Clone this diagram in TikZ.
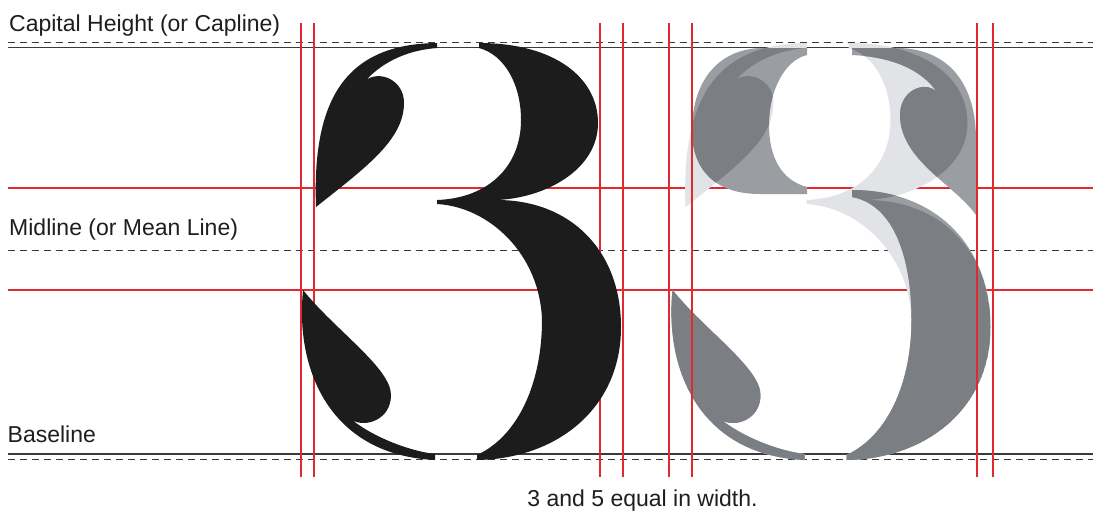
\documentclass[tikz,border=0pt]{standalone}
\usepackage{fontspec}
\setmainfont{Liberation Sans}
\definecolor{redline}{HTML}{E02A32}
\definecolor{guide}{HTML}{3A3A3A}
\definecolor{ink}{HTML}{1C1C1C}
\definecolor{lightg}{HTML}{E1E3E7}
\definecolor{midg}{HTML}{9A9EA2}
\definecolor{darkg}{HTML}{7B7F83}
\definecolor{txt}{HTML}{1E1E1E}

\newcommand\ThreeShape{
 (437,43) .. controls (345,44) and (312,100) .. (316,207)
 .. controls (365,168) and (404,140) .. (404,103)
 .. controls (404,80) and (380,70) .. (366,80)
 .. controls (385,60) and (410,50) .. (437,48) -- cycle
 (479,43) .. controls (555,43) and (598,78) .. (598,123)
 .. controls (598,170) and (545,198) .. (497,200)
 .. controls (570,200) and (621,250) .. (621,327)
 .. controls (621,410) and (555,459) .. (477,460)
 -- (477,455)
 .. controls (520,435) and (542,380) .. (542,320)
 .. controls (540,255) and (490,207) .. (437,204)
 -- (437,200)
 .. controls (490,198) and (521,165) .. (521,120)
 .. controls (521,85) and (505,55) .. (479,48) -- cycle
 (303,290) .. controls (295,370) and (330,455) .. (435,460)
 -- (435,454)
 .. controls (410,451) and (375,438) .. (352,420)
 .. controls (365,428) and (391,420) .. (391,395)
 .. controls (391,368) and (335,330) .. (303,290) -- cycle
}

\newcommand\FiveShape{
 (807,48) -- (760,48) .. controls (715,50) and (692,85) .. (692,130)
 .. controls (692,170) and (715,194) .. (760,194) -- (807,194) -- (807,187)
 .. controls (780,180) and (769,155) .. (769,125)
 .. controls (769,90) and (785,60) .. (807,55) -- cycle
 (852,48) -- (900,48) .. controls (950,50) and (976,85) .. (976,140) -- (976,215)
 .. controls (955,185) and (900,160) .. (900,115)
 .. controls (900,90) and (925,80) .. (937,92)
 .. controls (920,68) and (890,57) .. (852,55) -- cycle
 (672.5,290) .. controls (664.5,370) and (699.5,455) .. (804.5,460)
 -- (804.5,454)
 .. controls (779.5,451) and (744.5,438) .. (721.5,420)
 .. controls (734.5,428) and (760.5,420) .. (760.5,395)
 .. controls (760.5,368) and (704.5,330) .. (672.5,290) -- cycle
 (852,190) .. controls (935,190) and (990.5,245) .. (990.5,327)
 .. controls (990.5,410) and (924.5,459) .. (846.5,460)
 -- (846.5,455)
 .. controls (889.5,435) and (911.5,380) .. (911.5,320)
 .. controls (911.5,260) and (895,205) .. (852,197) -- cycle
}

\begin{document}
\begin{tikzpicture}[x=1pt,y=-1pt,
  dashguide/.style={guide, line width=0.9pt, dash pattern=on 7pt off 5pt},
  solidguide/.style={guide, line width=1.2pt},
  redguide/.style={redline, line width=1.2pt},
  label/.style={anchor=base west, inner sep=0pt, text=txt, font=\fontsize{23}{27}\selectfont}]
\useasboundingbox (0,0) rectangle (1093,512);
\fill[white] (0,0) rectangle (1093,512);

% guide lines
\draw[dashguide] (8,42.5) -- (1093,42.5);
\draw[solidguide] (8,47.5) -- (1093,47.5);
\draw[redguide] (8,188) -- (1093,188);
\draw[dashguide] (8,250.5) -- (1093,250.5);
\draw[redguide] (8,290) -- (1093,290);
\draw[solidguide] (8,454) -- (1093,454);
\draw[dashguide] (8,459.5) -- (1093,459.5);

\foreach \xx in {301,314,600,623,669,692,977,993}
  \draw[redguide] (\xx,23) -- (\xx,477);

% black 3
\fill[ink] \ThreeShape;

% gray 3 and 5 overlaid
\begin{scope}[xshift=369.5pt]
  \fill[lightg] \ThreeShape;
\end{scope}
\fill[midg] \FiveShape;
\begin{scope}[xshift=369.5pt]
  \clip \ThreeShape;
  \begin{scope}[xshift=-369.5pt]
    \fill[darkg] \FiveShape;
  \end{scope}
\end{scope}

\foreach \xx in {669,692,977,993}
  \draw[redguide] (\xx,23) -- (\xx,477);

% labels
\node[label] (lblcap) at (9,31.5) {Capital Height (or Capline)};
\node[label] (lblmid) at (9,235) {Midline (or Mean Line)};
\node[label] (lblbase) at (7.5,442.5) {Baseline};
\node[label, anchor=base] (lblcap2) at (642.5,506.5) {3 and 5 equal in width.};
\end{tikzpicture}
\end{document}
